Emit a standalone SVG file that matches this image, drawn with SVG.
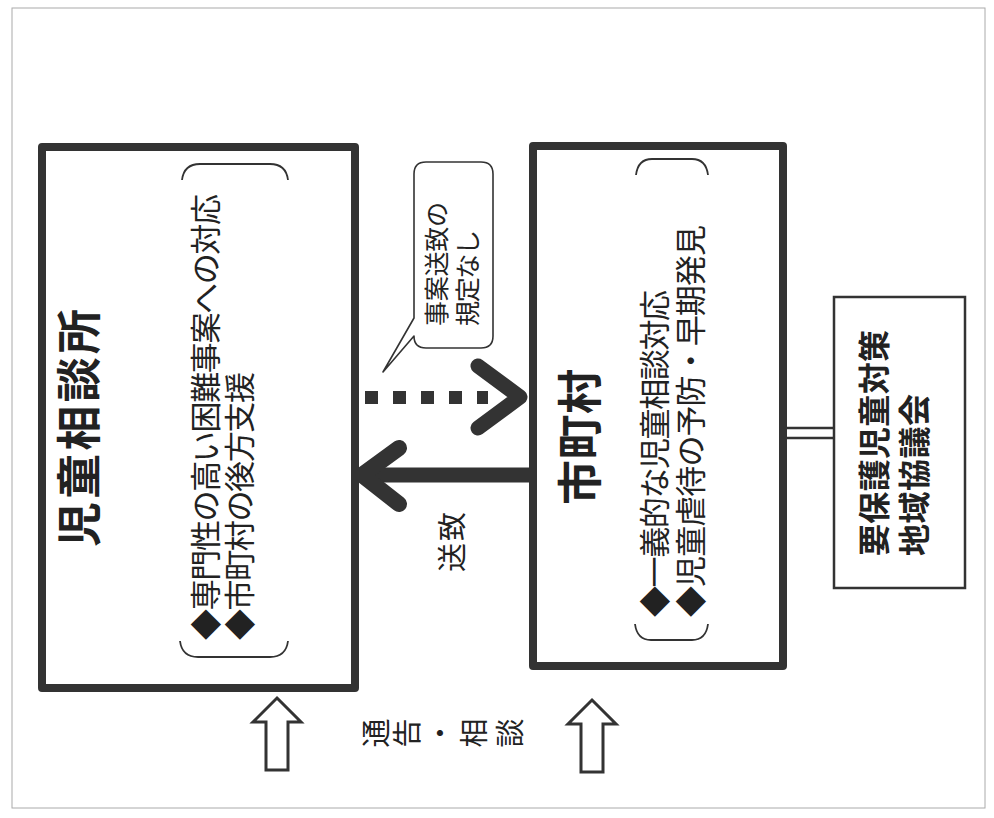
<svg xmlns="http://www.w3.org/2000/svg" width="994" height="818" viewBox="0 0 994 818">
<style>
  .box { fill: #fff; stroke: #333; stroke-width: 8; stroke-linejoin: round; }
  .thin { fill: #fff; stroke: #333; stroke-width: 2.5; }
  .br { fill: none; stroke: #333; stroke-width: 1.8; }
  .t { font-family: "Noto Sans CJK JP", "Noto Sans", sans-serif; fill: #222; dominant-baseline: central; }
  .title { font-weight: 700; font-size: 45px; }
  .body { font-size: 31px; }
  .sub { font-weight: 700; font-size: 32px; }
  .lbl { font-size: 29px; }
  .bub { font-size: 25px; }
  .arrow { fill: none; stroke: #333; stroke-linecap: round; stroke-linejoin: round; }
  .hollow { fill: #fff; stroke: #333; stroke-width: 3; stroke-linejoin: miter; }
</style>
<rect x="0" y="0" width="994" height="818" fill="#fff"/>
<rect x="12" y="8" width="973" height="800" fill="none" stroke="#aaa" stroke-width="1"/>

<g id="connectors">
  <!-- 送致 solid arrow -->
  <line class="arrow" x1="533" y1="475" x2="362" y2="475" stroke-width="15"/>
  <polyline class="arrow" points="399,448 362,475 399,504" stroke-width="16"/>
  <!-- dotted arrow -->
  <g fill="#333">
    <rect x="365" y="391" width="13" height="13"/>
    <rect x="393" y="391" width="13" height="13"/>
    <rect x="421" y="391" width="13" height="13"/>
    <rect x="449" y="391" width="13" height="13"/>
    <rect x="477" y="391" width="11" height="13"/>
  </g>
  <polyline class="arrow" points="478,366 520,397 478,428" stroke-width="15"/>
  <!-- double line to council -->
  <line x1="785" y1="428" x2="834" y2="428" stroke="#333" stroke-width="2.5"/>
  <line x1="785" y1="438" x2="834" y2="438" stroke="#333" stroke-width="2.5"/>
  <!-- hollow arrows 通告・相談 -->
  <polygon class="hollow" points="277,698 301,722 288,722 288,770 266,770 266,722 253,722"/>
  <polygon class="hollow" points="592,700 616,724 603,724 603,772 581,772 581,724 568,724"/>
  <!-- label 通告・相談 -->
  <text transform="translate(374,733) rotate(-90)" class="t lbl" text-anchor="middle">通</text>
  <text transform="translate(405,733) rotate(-90)" class="t lbl" text-anchor="middle">告</text>
  <text transform="translate(438,733) rotate(-90)" class="t lbl" text-anchor="middle">・</text>
  <text transform="translate(472,733) rotate(-90)" class="t lbl" text-anchor="middle">相</text>
  <text transform="translate(508,733) rotate(-90)" class="t lbl" text-anchor="middle">談</text>
  <!-- label 送致 -->
  <text class="t lbl" transform="translate(450,572) rotate(-90)" textLength="60" lengthAdjust="spacing">送致</text>
</g>

<g id="bubble">
  <path d="M426,162 H481 Q493,162 493,174 V336 Q493,348 481,348 H426 Q414,348 414,336 L383,372 L414,318 V174 Q414,162 426,162 Z" fill="#fff" stroke="#333" stroke-width="1.6" stroke-linejoin="round"/>
  <text class="t bub" transform="translate(435,326) rotate(-90)" textLength="124" lengthAdjust="spacing">事案送致の</text>
  <text class="t bub" transform="translate(466,326) rotate(-90)" textLength="96" lengthAdjust="spacing">規定なし</text>
</g>

<g id="jidou-soudanjo">
  <rect class="box" x="42" y="147" width="313" height="541"/>
  <text class="t title" transform="translate(76,547) rotate(-90)" textLength="238" lengthAdjust="spacing">児童相談所</text>
  <path class="br" d="M182,180 Q184,164 200,164 H270 Q286,164 288,180"/>
  <path class="br" d="M180,641 Q182,657 198,657 H270 Q286,657 288,641"/>
  <text class="t body" transform="translate(203,640) rotate(-90)" textLength="446" lengthAdjust="spacing">◆専門性の高い困難事案への対応</text>
  <text class="t body" transform="translate(237,640) rotate(-90)" textLength="268" lengthAdjust="spacing">◆市町村の後方支援</text>
</g>

<g id="shichouson">
  <rect class="box" x="533" y="146" width="250" height="520"/>
  <text class="t title" transform="translate(577,505) rotate(-90)" textLength="136" lengthAdjust="spacing">市町村</text>
  <path class="br" d="M636,175 Q638,159 652,159 H692 Q706,159 708,175"/>
  <path class="br" d="M635,624 Q637,640 651,640 H692 Q706,640 708,624"/>
  <text class="t body" transform="translate(652,617) rotate(-90)" textLength="327" lengthAdjust="spacing">◆一義的な児童相談対応</text>
  <text class="t body" transform="translate(688,617) rotate(-90)" textLength="392" lengthAdjust="spacing">◆児童虐待の予防・早期発見</text>
</g>

<g id="kyougikai">
  <rect class="thin" x="834" y="297" width="131" height="291"/>
  <text class="t sub" transform="translate(872,556) rotate(-90)" textLength="226" lengthAdjust="spacing">要保護児童対策</text>
  <text class="t sub" transform="translate(912,556) rotate(-90)" textLength="162" lengthAdjust="spacing">地域協議会</text>
</g>
</svg>
